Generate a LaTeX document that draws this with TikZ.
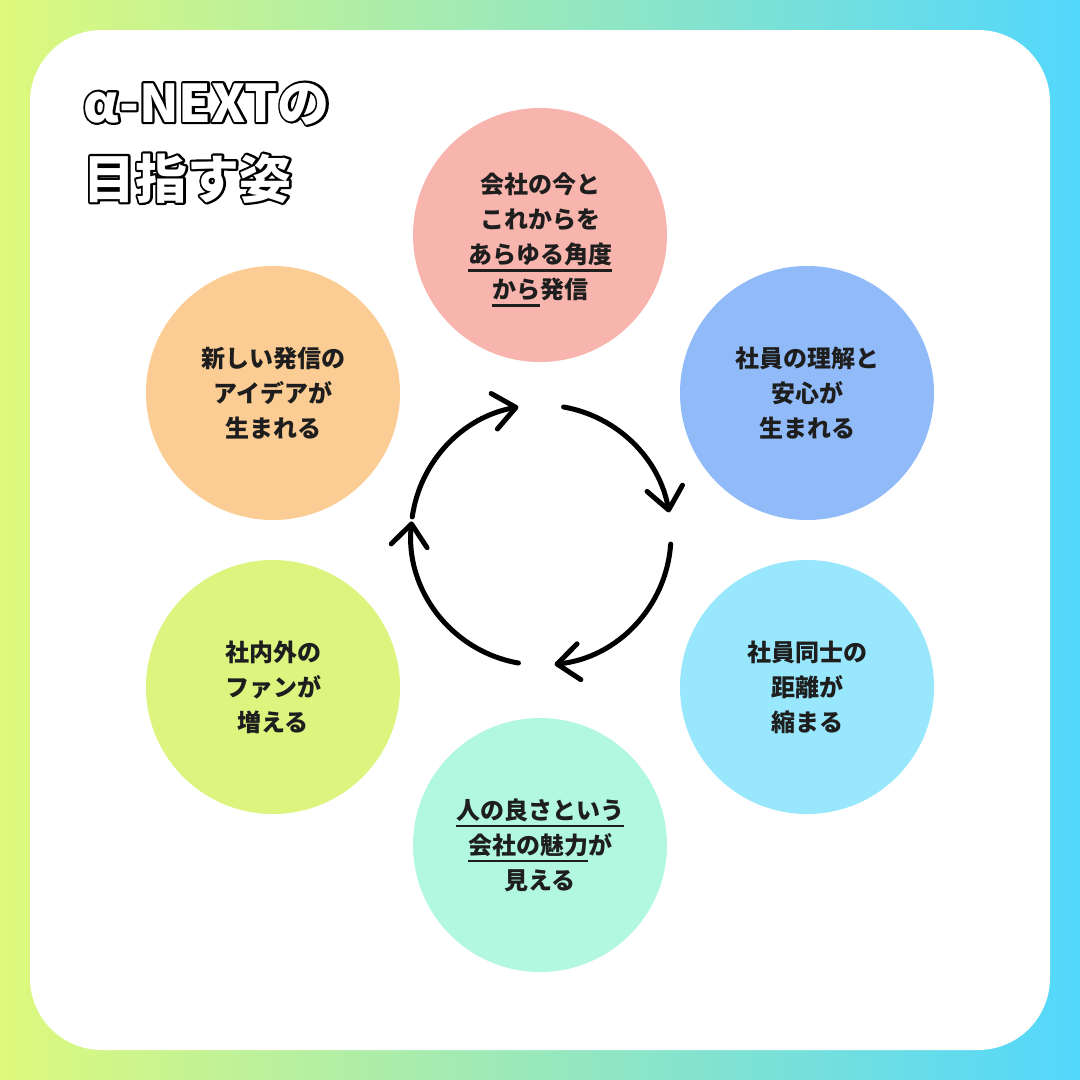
\documentclass[tikz,border=0pt]{standalone}
\usepackage{fontspec}
\setmainfont{Noto Sans CJK JP}
\usetikzlibrary{arrows.meta}
\definecolor{gleft}{HTML}{DEF97C}
\definecolor{gright}{HTML}{52D7FC}
\definecolor{cpink}{HTML}{F8B5AE}
\definecolor{cblue}{HTML}{91BAF8}
\definecolor{ccyan}{HTML}{98E7FC}
\definecolor{cmint}{HTML}{B2F8E1}
\definecolor{cyell}{HTML}{DDF47F}
\definecolor{corange}{HTML}{FBCD94}
\definecolor{txt}{HTML}{1E1E1E}
\newcommand\myul[1]{\begingroup\setbox0\hbox{#1}\rlap{\rule[-8pt]{\wd0}{2.6pt}}\box0\endgroup}
\newcommand\outlined[1]{\rlap{\color{black}\special{pdf:literal direct 1 Tr 0 G 4.4 w 1 j}#1\special{pdf:literal direct 0 Tr}}{\color{white}#1}}
\tikzset{
  bubble/.style={circle, minimum size=254pt, inner sep=0pt, align=center,
    font=\fontsize{24}{35}\selectfont\bfseries, text=txt},
  cyc/.style={line width=5pt, line cap=round, black,
    -{Straight Barb[length=22pt,width=36pt,round]}},
  titlefont/.style={anchor=base west, font=\fontsize{52}{52}\selectfont\bfseries}
}
\begin{document}
\begin{tikzpicture}[x=1pt,y=-1pt]
\useasboundingbox (0,0) rectangle (1080,1080);
\shade[left color=gleft, right color=gright] (0,0) rectangle (1080,1080);
\fill[white, rounded corners=72pt] (30,30) rectangle (1050,1050);

\node[titlefont] (t1) at (80,122) {\outlined{α-NEXTの}};
\node[titlefont] (t2) at (80,198) {\outlined{目指す姿}};

\node[bubble, fill=cpink] (c1) at (540,235) {\rule{0pt}{30pt}会社の今と\\これからを\\\myul{あらゆる角度}\\\myul{から}発信};
\node[bubble, fill=cblue] (c2) at (807,393) {社員の理解と\\安心が\\生まれる};
\node[bubble, fill=ccyan] (c3) at (807,687) {社員同士の\\距離が\\縮まる};
\node[bubble, fill=cmint] (c4) at (540,845) {\myul{人の良さという}\\\myul{会社の魅力}が\\見える};
\node[bubble, fill=cyell] (c5) at (273,687) {社内外の\\ファンが\\増える};
\node[bubble, fill=corange] (c6) at (273,393) {新しい発信の\\アイデアが\\生まれる};

\coordinate (ac) at (541,535);
\draw[cyc] ([shift={(-172:130)}]ac) arc[start angle=-172, end angle=-100, radius=130];
\draw[cyc] ([shift={(-80:130)}]ac) arc[start angle=-80, end angle=-10, radius=130];
\draw[cyc] ([shift={(4:130)}]ac) arc[start angle=4, end angle=84, radius=130];
\draw[cyc] ([shift={(100:130)}]ac) arc[start angle=100, end angle=186, radius=130];
\end{tikzpicture}
\end{document}
